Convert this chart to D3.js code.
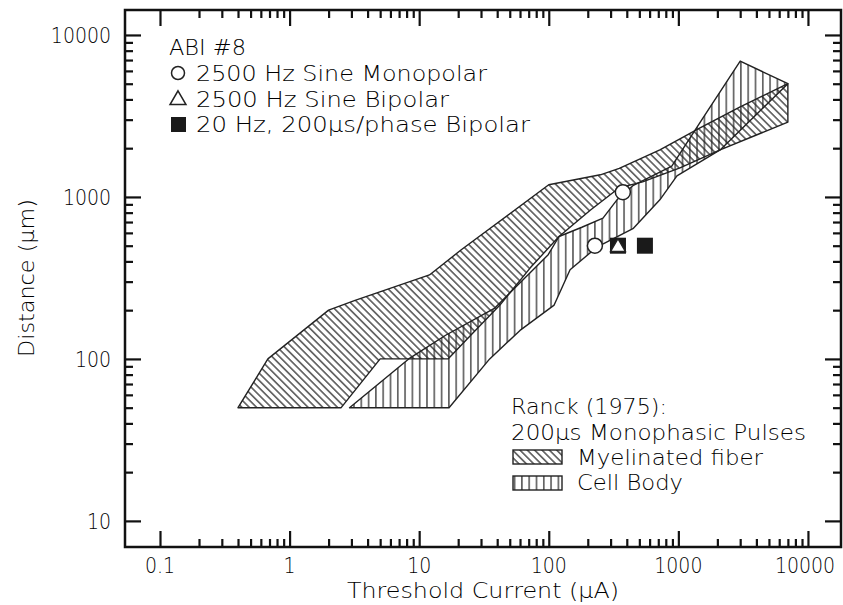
<!DOCTYPE html>
<html>
<head>
<meta charset="utf-8">
<script src="https://cdn.jsdelivr.net/npm/d3@7"></script>
<style>
  html, body { margin: 0; padding: 0; background: #fff; }
  svg { display: block; }
  text { font-family: "DejaVu Sans", sans-serif; font-weight: 200; fill: #000; }
</style>
</head>
<body>
<script>
// ---------- DATA ----------
const xTickValues = [0.1, 1, 10, 100, 1000, 10000];
const xTickLabels = ["0.1", "1", "10", "100", "1000", "10000"];
const yTickValues = [10, 100, 1000, 10000];
const yTickLabels = ["10", "100", "1000", "10000"];

// Ranck (1975) myelinated fiber band: [current uA, distance um]
const myelinatedUpper = [[0.4,50],[0.68,100],[2,200],[3.2,230],[12,330],[21,470],[100,1190],[250,1370],[350,1500],[720,1950],[1470,2670],[3000,3600],[7000,5000]];
const myelinatedLower = [[7000,2900],[2100,1950],[1030,1510],[530,1240],[350,1140],[210,830],[120,570],[72,365],[42,215],[25,140],[16.7,100],[5,100],[2.5,50]];

// Ranck (1975) cell body band
const cellBodyLower = [[3000,6900],[7000,5000],[2100,1950],[975,1350],[720,960],[450,640],[235,490],[146,355],[110,215],[60,150],[35,100],[17,50]];
const cellBodyUpper = [[2.9,50],[8.3,100],[16,140],[38,205],[99,440],[120,570],[180,650],[262,740],[336,960],[450,1180],[890,1550],[1550,3080]];

// ABI #8 measurements
const sineMonopolar = [[227,500],[373,1070]];
const sineBipolar = [[342,500]];
const pulseBipolar = [[342,500],[552,500]];

// ---------- CHART ----------
const W = 843, H = 605;
const svg = d3.select("body").append("svg").attr("width", W).attr("height", H);

const x = d3.scaleLog().domain([0.0537, 17990]).range([125, 841]);
const y = d3.scaleLog().domain([6.9, 14260]).range([547, 10]);

const defs = svg.append("defs");
const pd = defs.append("pattern").attr("id", "diag").attr("patternUnits", "userSpaceOnUse")
  .attr("width", 5.2).attr("height", 10).attr("patternTransform", "rotate(-45)");
pd.append("line").attr("x1", 2.6).attr("x2", 2.6).attr("y1", -1).attr("y2", 11)
  .attr("stroke", "#222").attr("stroke-width", 1.2);
const pv = defs.append("pattern").attr("id", "vert").attr("patternUnits", "userSpaceOnUse")
  .attr("width", 7.3).attr("height", 10);
pv.append("line").attr("x1", 3.6).attr("x2", 3.6).attr("y1", -1).attr("y2", 11)
  .attr("stroke", "#222").attr("stroke-width", 1.2);

const line = d3.line().x(d => x(d[0])).y(d => y(d[1])).curve(d3.curveLinearClosed);

const myelinPoly = myelinatedUpper.concat(myelinatedLower);
const cellPoly = cellBodyLower.concat(cellBodyUpper);

svg.append("path").attr("d", line(myelinPoly)).attr("fill", "url(#diag)")
  .attr("stroke", "#222").attr("stroke-width", 1.4).attr("stroke-linejoin", "round");
svg.append("path").attr("d", line(cellPoly)).attr("fill", "url(#vert)")
  .attr("stroke", "#222").attr("stroke-width", 1.4).attr("stroke-linejoin", "round");

// markers
svg.selectAll(".sq").data(pulseBipolar).enter().append("rect")
  .attr("x", d => x(d[0]) - 8).attr("y", d => y(d[1]) - 8).attr("width", 16).attr("height", 16)
  .attr("fill", "#1a1a1a");
svg.selectAll(".tri").data(sineBipolar).enter().append("path")
  .attr("d", d3.symbol().type(d3.symbolTriangle).size(95))
  .attr("transform", d => `translate(${x(d[0])},${y(d[1]) + 1.5})`)
  .attr("fill", "#fff").attr("stroke", "#222").attr("stroke-width", 1.5);
svg.selectAll(".circ").data(sineMonopolar).enter().append("circle")
  .attr("cx", d => x(d[0])).attr("cy", d => y(d[1])).attr("r", 7.5)
  .attr("fill", "#fff").attr("stroke", "#222").attr("stroke-width", 1.5);

// axes (ticks inward on all 4 sides)
const allX = x.ticks().filter(v => v >= 0.1 && v <= 10000);
const allY = y.ticks().filter(v => v >= 10 && v <= 10000);
const isMajor = v => Math.abs(Math.log10(v) - Math.round(Math.log10(v))) < 1e-9;
const minorX = allX.filter(v => !isMajor(v));
const minorY = allY.filter(v => !isMajor(v));

function styleAxis(g) {
  g.select(".domain").remove();
  g.selectAll("line").attr("stroke", "#111").attr("stroke-width", 2.2);
  g.selectAll("text").remove();
}
// bottom
svg.append("g").attr("transform", "translate(0,547)")
  .call(d3.axisBottom(x).tickValues(xTickValues).tickSize(-16)).call(styleAxis);
svg.append("g").attr("transform", "translate(0,547)")
  .call(d3.axisBottom(x).tickValues(minorX).tickSize(-8)).call(styleAxis);
// top
svg.append("g").attr("transform", "translate(0,10)")
  .call(d3.axisTop(x).tickValues(xTickValues).tickSize(-16)).call(styleAxis);
svg.append("g").attr("transform", "translate(0,10)")
  .call(d3.axisTop(x).tickValues(minorX).tickSize(-8)).call(styleAxis);
// left
svg.append("g").attr("transform", "translate(125,0)")
  .call(d3.axisLeft(y).tickValues(yTickValues).tickSize(-16)).call(styleAxis);
svg.append("g").attr("transform", "translate(125,0)")
  .call(d3.axisLeft(y).tickValues(minorY).tickSize(-8)).call(styleAxis);
// right
svg.append("g").attr("transform", "translate(841,0)")
  .call(d3.axisRight(y).tickValues(yTickValues).tickSize(-16)).call(styleAxis);
svg.append("g").attr("transform", "translate(841,0)")
  .call(d3.axisRight(y).tickValues(minorY).tickSize(-8)).call(styleAxis);

// frame
svg.append("rect").attr("x", 125).attr("y", 10).attr("width", 716).attr("height", 537)
  .attr("fill", "none").attr("stroke", "#111").attr("stroke-width", 2.5);

// tick labels (narrow digits via horizontal scaling)
const sx = 0.86;
svg.selectAll(".xl").data(xTickValues).enter().append("text")
  .attr("transform", (d, i) => `translate(${x(d) - (i === xTickValues.length - 1 ? 3 : 0)},573) scale(${sx},1)`)
  .attr("text-anchor", "middle").attr("font-size", 22)
  .text((d, i) => xTickLabels[i]);
svg.selectAll(".yl").data(yTickValues).enter().append("text")
  .attr("transform", d => `translate(111,${y(d) + 8}) scale(${sx},1)`)
  .attr("text-anchor", "end").attr("font-size", 22)
  .text((d, i) => yTickLabels[i]);

// axis titles
svg.append("text").attr("x", 483).attr("y", 598).attr("text-anchor", "middle")
  .attr("font-size", 21).attr("textLength", 272).attr("lengthAdjust", "spacingAndGlyphs")
  .text("Threshold Current (\u03BCA)");
svg.append("text").attr("transform", "translate(34,278) rotate(-90)").attr("text-anchor", "middle")
  .attr("font-size", 21).attr("textLength", 158).attr("lengthAdjust", "spacingAndGlyphs")
  .text("Distance (\u03BCm)");

// legend top-left
function txt(xp, yp, s, len) {
  return svg.append("text").attr("x", xp).attr("y", yp).attr("font-size", 21)
    .attr("textLength", len).attr("lengthAdjust", "spacingAndGlyphs").text(s);
}
txt(169, 55, "ABI #8", 77);
svg.append("circle").attr("cx", 178).attr("cy", 73).attr("r", 6.5)
  .attr("fill", "#fff").attr("stroke", "#222").attr("stroke-width", 1.5);
txt(196, 81, "2500 Hz Sine Monopolar", 291);
svg.append("path").attr("d", d3.symbol().type(d3.symbolTriangle).size(110))
  .attr("transform", "translate(178,100)").attr("fill", "#fff").attr("stroke", "#222").attr("stroke-width", 1.5);
txt(196, 107, "2500 Hz Sine Bipolar", 253);
svg.append("rect").attr("x", 171).attr("y", 117).attr("width", 15).attr("height", 15).attr("fill", "#1a1a1a");
txt(196, 132, "20 Hz, 200\u03BCs/phase Bipolar", 334);

// legend bottom-right
txt(511, 414, "Ranck (1975):", 156);
txt(511, 440, "200\u03BCs Monophasic Pulses", 295);
svg.append("rect").attr("x", 513).attr("y", 450).attr("width", 49).attr("height", 14)
  .attr("fill", "url(#diag)").attr("stroke", "#222").attr("stroke-width", 1.4);
txt(577, 465, "Myelinated fiber", 186);
svg.append("rect").attr("x", 513).attr("y", 476).attr("width", 49).attr("height", 14)
  .attr("fill", "url(#vert)").attr("stroke", "#222").attr("stroke-width", 1.4);
txt(577, 490, "Cell Body", 106);
</script>
</body>
</html>
